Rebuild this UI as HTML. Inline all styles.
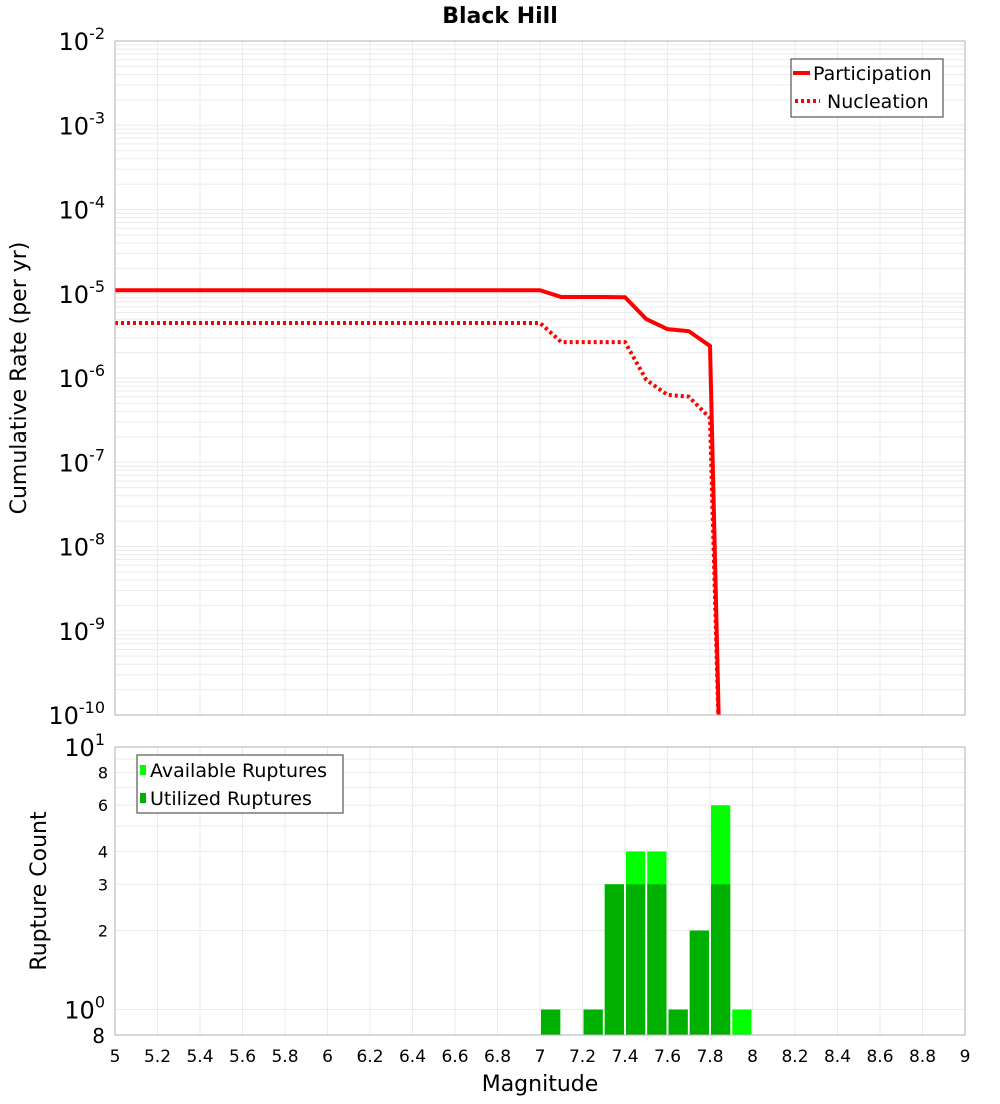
<!DOCTYPE html>
<html><head><meta charset="utf-8"><style>
body{margin:0;background:#fff;font-family:"DejaVu Sans","Liberation Sans",sans-serif}
svg text{font-family:"DejaVu Sans","Liberation Sans",sans-serif}
</style></head><body>
<svg id="chart" width="1000" height="1100" xmlns="http://www.w3.org/2000/svg">
<text x="500" y="23" text-anchor="middle" font-size="22" font-weight="bold">Black Hill</text>
<g id="topPlot"></g>
<g id="botPlot"></g>
<text transform="translate(26,378) rotate(-90)" text-anchor="middle" font-size="22">Cumulative Rate (per yr)</text>
<text transform="translate(46,891) rotate(-90)" text-anchor="middle" font-size="22">Rupture Count</text>
<text x="540" y="1091" text-anchor="middle" font-size="22">Magnitude</text>
</svg>
<script>
const partMags=[5,7.0,7.1,7.2,7.3,7.4,7.5,7.6,7.7,7.8,7.85];
const partRates=[1.1e-5,1.1e-5,0.915e-5,0.915e-5,0.915e-5,0.91e-5,5.0e-6,3.8e-6,3.6e-6,2.4e-6,1e-11];
const nuclMags=[5,7.0,7.1,7.2,7.3,7.4,7.5,7.6,7.7,7.8,7.85];
const nuclRates=[4.5e-6,4.5e-6,2.67e-6,2.67e-6,2.67e-6,2.67e-6,9.5e-7,6.3e-7,6.0e-7,3.35e-7,1e-11];
const binMags=[7.0,7.2,7.3,7.4,7.5,7.6,7.7,7.8,7.9];
const availCounts=[1,1,3,4,4,1,2,6,1];
const usedCounts=[1,1,3,3,3,1,2,3,0];
const xTicks=[5,5.2,5.4,5.6,5.8,6,6.2,6.4,6.6,6.8,7,7.2,7.4,7.6,7.8,8,8.2,8.4,8.6,8.8,9];
const NS="http://www.w3.org/2000/svg";
const X0=115,X1=965;
const sx=m=>X0+(m-5)/4*(X1-X0);
const T0=41,T1=715;
const syT=v=>T0+(-2-Math.log10(v))/8*(T1-T0);
const B0=747,B1=1035;
const syB=v=>B0+(1-Math.log10(v))/(1-Math.log10(0.8))*(B1-B0);
function mk(p,tag,a){const e=document.createElementNS(NS,tag);for(const k in a)e.setAttribute(k,a[k]);p.appendChild(e);return e;}
const topG=document.getElementById('topPlot'),botG=document.getElementById('botPlot'),svg=document.getElementById('chart');
xTicks.forEach(t=>{
 let g=mk(topG,'line',{x1:sx(t),x2:sx(t),y1:T0,y2:T1,stroke:'#ebebeb'});
 
 
 let g2=mk(botG,'line',{x1:sx(t),x2:sx(t),y1:B0,y2:B1,stroke:'#ebebeb'});
 
 
 let tx=mk(svg,'text',{x:sx(t),y:1062,'text-anchor':'middle','font-size':'17'});
 tx.textContent=String(t);
 
 
});
for(let d=-10;d<-2;d++){for(let k=1;k<10;k++){const v=k*Math.pow(10,d);
 let g=mk(topG,'line',{x1:X0,x2:X1,y1:syT(v),y2:syT(v),stroke:'#ebebeb'});
 
 }}
for(let d=-10;d<=-2;d++){
 let t=mk(svg,'text',{x:105,y:syT(Math.pow(10,d))+9,'text-anchor':'end','font-size':'24'});
 t.innerHTML='10<tspan dy="-11" font-size="16">'+d+'</tspan>';
 
 
}
[1,2,3,4,5,6,7,8,9].forEach(v=>{let g=mk(botG,'line',{x1:X0,x2:X1,y1:syB(v),y2:syB(v),stroke:'#ebebeb'});
 
 });
[[2,'2'],[3,'3'],[4,'4'],[6,'6'],[8,'8']].forEach(([v,s])=>{let t=mk(svg,'text',{x:108,y:syB(v)+6,'text-anchor':'end','font-size':'16'});t.textContent=s;
 
 });
let tb1=mk(svg,'text',{x:105,y:syB(1)+9,'text-anchor':'end','font-size':'24'});tb1.innerHTML='10<tspan dy="-11" font-size="16">0</tspan>';


let tb2=mk(svg,'text',{x:105,y:B0+9,'text-anchor':'end','font-size':'24'});tb2.innerHTML='10<tspan dy="-11" font-size="16">1</tspan>';


let tb3=mk(svg,'text',{x:105,y:B1+8,'text-anchor':'end','font-size':'20'});tb3.textContent='8';


const clip=mk(topG,'clipPath',{id:'cp'});mk(clip,'rect',{x:X0,y:T0,width:X1-X0,height:T1-T0});
const lg=mk(topG,'g',{'clip-path':'url(#cp)'});
let p1=mk(lg,'polyline',{points:partMags.map((m,i)=>sx(m)+','+syT(partRates[i])).join(' '),fill:'none',stroke:'#ff0000','stroke-width':4});


let p2=mk(lg,'polyline',{points:nuclMags.map((m,i)=>sx(m)+','+syT(nuclRates[i])).join(' '),fill:'none',stroke:'#ff0000','stroke-width':4,'stroke-dasharray':'3 3'});


mk(topG,'rect',{x:X0,y:T0,width:X1-X0,height:T1-T0,fill:'none',stroke:'#b0b0b0'});
binMags.forEach((m,i)=>{
 const x=sx(m)+1,w=sx(m+0.1)-sx(m)-2;
 if(availCounts[i]>0){let r=mk(botG,'rect',{x:x,y:syB(availCounts[i]),width:w,height:B1-syB(availCounts[i]),fill:'#00ff00'});
 
 }
 if(usedCounts[i]>0){let r=mk(botG,'rect',{x:x,y:syB(usedCounts[i]),width:w,height:B1-syB(usedCounts[i]),fill:'#00b000'});
 
 }
});
mk(botG,'rect',{x:X0,y:B0,width:X1-X0,height:B1-B0,fill:'none',stroke:'#b0b0b0'});
</script>
<svg style="position:absolute;left:0;top:0" width="1000" height="1100" xmlns="http://www.w3.org/2000/svg">
<g>
<rect x="791" y="59" width="152" height="58" fill="#fff" stroke="#333"/>
<line x1="793" y1="73" x2="810" y2="73" stroke="#f00" stroke-width="4"/>
<text x="813" y="80" font-size="19" font-family="DejaVu Sans,Liberation Sans,sans-serif">Participation</text>
<line x1="795" y1="101" x2="820" y2="101" stroke="#f00" stroke-width="4" stroke-dasharray="3 3"/>
<text x="827" y="108" font-size="19" font-family="DejaVu Sans,Liberation Sans,sans-serif">Nucleation</text>
</g>
<g>
<rect x="137" y="755" width="206" height="58" fill="#fff" stroke="#333"/>
<rect x="140" y="765" width="6" height="10" fill="#00ff00"/>
<text x="150" y="777" font-size="19" font-family="DejaVu Sans,Liberation Sans,sans-serif">Available Ruptures</text>
<rect x="140" y="793" width="6" height="10" fill="#00b000"/>
<text x="150" y="805" font-size="19" font-family="DejaVu Sans,Liberation Sans,sans-serif">Utilized Ruptures</text>
</g>
</svg>
</body></html>
